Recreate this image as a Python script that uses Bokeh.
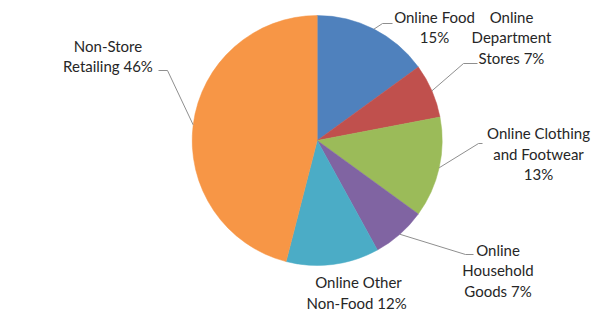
import math
from bokeh.plotting import figure
from bokeh.models import Range1d, ColumnDataSource
from bokeh.core.properties import value
from bokeh.embed import file_html
from bokeh.resources import INLINE

# ---- data ----
categories = ["Online Food", "Online Department Stores", "Online Clothing and Footwear",
              "Online Household Goods", "Online Other Non-Food", "Non-Store Retailing"]
shares = [15, 7, 13, 7, 12, 46]
label_lines = [
    ["Online Food", "15%"],
    ["Online", "Department", "Stores 7%"],
    ["Online Clothing", "and Footwear", "13%"],
    ["Online", "Household", "Goods 7%"],
    ["Online Other", "Non-Food  12%"],
    ["Non-Store", "Retailing 46%"],
]
colors = ["#4F81BD", "#C0504D", "#9BBB59", "#8064A2", "#4BACC6", "#F79646"]

# ---- layout (pixel coordinates, y measured from top) ----
W, H = 600, 316
CX, CY, R = 316.7, 140.0, 125.0
LINE_H = 20.5
label_centers = [(434, 16), (511, 16), (538, 132.7), (497.5, 249), (358, 281.7), (107.5, 45)]
leader_elbows = [
    [(382, 23), (392, 23)],
    [(463, 63), (477, 63)],
    [(478, 143), (482, 143)],
    [(465, 254), (473, 254)],
    None,
    [(167, 70), (158, 70)],
]

def fy(py):
    return H - py

p = figure(width=W, height=H, output_backend="svg", toolbar_location=None,
           x_range=Range1d(0, W), y_range=Range1d(0, H), min_border=0)
p.axis.visible = False
p.grid.visible = False
p.outline_line_color = None
p.background_fill_color = "white"

total = float(sum(shares))
cum = 0.0
starts, ends, mids = [], [], []
for s in shares:
    a0 = cum / total * 2 * math.pi
    cum += s
    a1 = cum / total * 2 * math.pi
    starts.append(math.pi / 2 - a1)
    ends.append(math.pi / 2 - a0)
    mids.append((a0 + a1) / 2)

src = ColumnDataSource(dict(start=starts, end=ends, color=colors, cat=categories))
p.wedge(x=CX, y=fy(CY), radius=R, start_angle="start", end_angle="end",
        fill_color="color", line_color="color", line_width=0.5, source=src)

# leader lines
for i, el in enumerate(leader_elbows):
    if el is None:
        continue
    m = mids[i]
    rx = CX + R * math.sin(m)
    ry = CY - R * math.cos(m)
    xs = [rx] + [e[0] for e in el]
    ys = [fy(ry)] + [fy(e[1]) for e in el]
    p.line(xs, ys, line_color="#8f8f8f", line_width=1)

# labels
tx, ty, tt = [], [], []
for (lx, ly), lines in zip(label_centers, label_lines):
    for k, t in enumerate(lines):
        tx.append(lx)
        ty.append(fy(ly + k * LINE_H))
        tt.append(t)
p.text(x=tx, y=ty, text=tt, text_font=value("Lato"), text_font_size="15px",
       text_align="center", text_baseline="middle", text_color="#262626")

open("out.html", "w").write(file_html(p, INLINE))
